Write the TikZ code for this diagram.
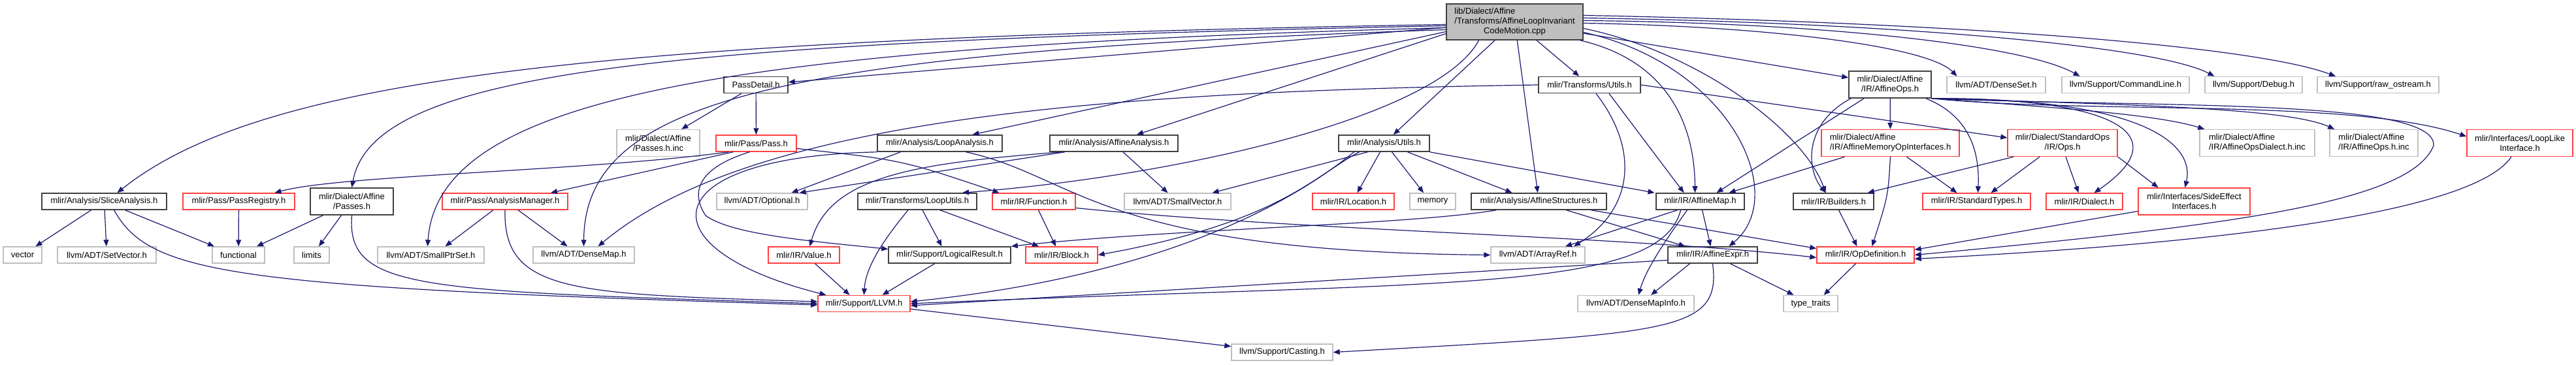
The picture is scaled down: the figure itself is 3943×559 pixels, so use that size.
\documentclass[tikz,border=0pt]{standalone}
\usepackage{fontspec}
\setmainfont{Liberation Sans}
\usepackage{tikz}
\usetikzlibrary{arrows.meta}

\definecolor{edgeblue}{HTML}{191970}
\definecolor{truncred}{HTML}{FF4040}
\definecolor{extgray}{HTML}{BFBFBF}
\definecolor{docgray}{HTML}{404040}

\begin{document}
\begin{tikzpicture}[
  x=1pt, y=-1pt,
  >={Triangle[length=10pt,width=8pt]},
  file/.style={draw=docgray, line width=1.6pt, fill=white, inner sep=2pt,
    minimum height=25pt, font=\fontsize{13}{15}\selectfont},
  trunc/.style={file, draw=truncred, line width=1.4pt},
  ext/.style={file, draw=extgray, line width=1.4pt},
  two/.style={minimum height=41pt, align=center},
  wd/.style={minimum width=#1pt},
  dep/.style={->, draw=edgeblue, line width=1.2pt},
]
\useasboundingbox (0,0) rectangle (3943,559);

% --- the file itself
\node[file, fill=extgray, wd=209, minimum height=55pt] (main) at (2318.5,33.5)
  {\begin{tabular}{@{}l@{}}lib/Dialect/Affine\\/Transforms/AffineLoopInvariant\\\multicolumn{1}{@{}c@{}}{CodeMotion.cpp}\end{tabular}};

% --- row 1
\node[file, wd=98] (passDetail) at (1157,130) {PassDetail.h};
\node[file, wd=156] (trUtils) at (2433,130) {mlir/Transforms/Utils.h};
\node[file, two, wd=126] (affOps) at (2893,129.5) {mlir/Dialect/Affine\\/IR/AffineOps.h};
\node[ext, wd=151] (denseSet) at (3055.5,130) {llvm/ADT/DenseSet.h};
\node[ext, wd=195] (cmdLine) at (3253.5,130) {llvm/Support/CommandLine.h};
\node[ext, wd=149] (debug) at (3449.5,130) {llvm/Support/Debug.h};
\node[ext, wd=186] (rawOs) at (3640,130) {llvm/Support/raw\_ostream.h};

% --- row 2
\node[ext, two, wd=127] (passesInc) at (1007.5,219) {mlir/Dialect/Affine\\/Passes.h.inc};
\node[trunc, wd=123] (pass) at (1157.5,219.5) {mlir/Pass/Pass.h};
\node[file, wd=191] (loopAn) at (1438.5,219.5) {mlir/Analysis/LoopAnalysis.h};
\node[file, wd=196] (affAn) at (1705,219.5) {mlir/Analysis/AffineAnalysis.h};
\node[file, wd=139] (anUtils) at (2118.5,219.5) {mlir/Analysis/Utils.h};
\node[trunc, two, wd=211, align=left] (memIf) at (2893.5,219) {mlir/Dialect/Affine\\/IR/AffineMemoryOpInterfaces.h};
\node[trunc, two, wd=168] (stdOps) at (3157,219) {mlir/Dialect/StandardOps\\/IR/Ops.h};
\node[ext, two, wd=176, align=left] (opsDialInc) at (3455,219) {mlir/Dialect/Affine\\/IR/AffineOpsDialect.h.inc};
\node[ext, two, wd=135, align=left] (opsInc) at (3633.5,219) {mlir/Dialect/Affine\\/IR/AffineOps.h.inc};
\node[trunc, two, wd=162] (loopLike) at (3857,219) {mlir/Interfaces/LoopLike\\Interface.h};

% --- row 3
\node[file, wd=191] (slice) at (159.5,308.5) {mlir/Analysis/SliceAnalysis.h};
\node[trunc, wd=171] (passReg) at (365.5,308.5) {mlir/Pass/PassRegistry.h};
\node[file, two, wd=127] (affPasses) at (538.5,308.5) {mlir/Dialect/Affine\\/Passes.h};
\node[trunc, wd=192] (anMgr) at (773,308.5) {mlir/Pass/AnalysisManager.h};
\node[ext, wd=139] (optional) at (1166.5,308.5) {llvm/ADT/Optional.h};
\node[file, wd=182] (loopUtils) at (1404,308.5) {mlir/Transforms/LoopUtils.h};
\node[trunc, wd=127] (function) at (1582.5,308.5) {mlir/IR/Function.h};
\node[ext, wd=163] (smallVec) at (1802.5,308.5) {llvm/ADT/SmallVector.h};
\node[trunc, wd=125] (location) at (2071.5,308.5) {mlir/IR/Location.h};
\node[ext, wd=70] (memory) at (2193,308.5) {memory};
\node[file, wd=207] (affStruct) at (2355.5,308.5) {mlir/Analysis/AffineStructures.h};
\node[file, wd=135] (affMap) at (2602.5,308.5) {mlir/IR/AffineMap.h};
\node[file, wd=123] (builders) at (2806.5,308.5) {mlir/IR/Builders.h};
\node[trunc, wd=165] (stdTypes) at (3025.5,308.5) {mlir/IR/StandardTypes.h};
\node[trunc, wd=117] (dialect) at (3190.5,308.5) {mlir/IR/Dialect.h};
\node[trunc, two, wd=171] (sideEff) at (3358.5,308.5) {mlir/Interfaces/SideEffect\\Interfaces.h};

% --- row 4
\node[ext, wd=59] (vector) at (34.5,390.5) {vector};
\node[ext, wd=151] (setVec) at (163.5,390.5) {llvm/ADT/SetVector.h};
\node[ext, wd=80] (functional) at (365,390.5) {functional};
\node[ext, wd=54] (limits) at (477,390.5) {limits};
\node[ext, wd=163] (smallPtr) at (659.5,390.5) {llvm/ADT/SmallPtrSet.h};
\node[ext, wd=155] (denseMap) at (893.5,390.5) {llvm/ADT/DenseMap.h};
\node[trunc, wd=109] (value) at (1230.5,390.5) {mlir/IR/Value.h};
\node[file, wd=187] (logRes) at (1453.5,390.5) {mlir/Support/LogicalResult.h};
\node[trunc, wd=110] (block) at (1625,390.5) {mlir/IR/Block.h};
\node[ext, wd=144] (arrayRef) at (2354,390.5) {llvm/ADT/ArrayRef.h};
\node[file, wd=137] (affExpr) at (2621.5,390.5) {mlir/IR/AffineExpr.h};
\node[trunc, wd=149] (opDef) at (2855.5,390.5) {mlir/IR/OpDefinition.h};

% --- rows 5 and 6
\node[trunc, wd=141] (llvm) at (1322.5,465) {mlir/Support/LLVM.h};
\node[ext, wd=178] (denseInfo) at (2504,465) {llvm/ADT/DenseMapInfo.h};
\node[ext, wd=83] (typeTraits) at (2771.5,465) {type\_traits};
\node[ext, wd=155] (casting) at (1962.5,539.5) {llvm/Support/Casting.h};

% --- includes of the file itself
\draw[dep] (main) -- (passDetail);
\draw[dep] ([yshift=-4]main.west) .. controls (900,60) and (400,120) .. ([xshift=20]slice.north);
\draw[dep] ([yshift=-6]main.west) .. controls (1000,64) and (570,110) .. (affPasses.north);
\draw[dep] ([yshift=-9]main.west) .. controls (1100,72) and (670,150) .. ([xshift=-5]smallPtr.north);
\draw[dep] ([yshift=-12]main.west) .. controls (1200,80) and (895,150) .. (denseMap.north);
\draw[dep] ([yshift=-15]main.west) -- ([xshift=50]loopAn.north);
\draw[dep] ([yshift=-18]main.west) -- ([xshift=35]affAn.north);
\draw[dep] ([xshift=-55]main.south) .. controls (2200,180) and (1800,270) .. ([xshift=69]loopUtils.north);
\draw[dep] (main) -- (anUtils);
\draw[dep] (main) -- (affStruct);
\draw[dep] (main) -- (trUtils);
\draw[dep] ([xshift=-5]main.south east) .. controls (2560,95) and (2594,200) .. ([xshift=-8]affMap.north);
\draw[dep] (main) -- (affOps);
\draw[dep] ([yshift=-2]main.east) .. controls (2700,40) and (2950,70) .. ([xshift=-60]denseSet.north);
\draw[dep] ([yshift=2]main.east) .. controls (2800,35) and (3100,70) .. ([xshift=-70]cmdLine.north);
\draw[dep] ([yshift=6]main.east) .. controls (2900,35) and (3300,70) .. ([xshift=-60]debug.north);
\draw[dep] ([yshift=10]main.east) .. controls (3000,35) and (3450,70) .. ([xshift=-65]rawOs.north);
\draw[dep] ([yshift=-10]main.east) .. controls (2600,80) and (2760,200) .. ([xshift=-12]builders.north);
\draw[dep] ([yshift=-16]main.east) .. controls (2650,100) and (2740,300) .. ([xshift=25]affExpr.north);

% --- PassDetail.h and the pass headers
\draw[dep] (passDetail) -- (passesInc);
\draw[dep] (passDetail) -- (pass);
\draw[dep] ([xshift=-42]pass.south) .. controls (900,262) and (520,268) .. ([xshift=55]passReg.north);
\draw[dep] ([xshift=-35]pass.south) -- ([xshift=70]anMgr.north);
\draw[dep] ([yshift=-8]pass.east) .. controls (1380,245) .. ([xshift=-53]function.north);
\draw[dep] ([xshift=-10]pass.south) .. controls (1060,260) and (1060,300) .. (1080,330)
  .. controls (1120,360) and (1250,370) .. ([yshift=9]logRes.west);
\draw[dep] (passReg) -- (functional);
\draw[dep] ([xshift=-18]anMgr.south) -- ([xshift=22]smallPtr.north);
\draw[dep] ([xshift=20]anMgr.south) -- ([xshift=-25]denseMap.north);
\draw[dep] (anMgr.south) .. controls (770,450) and (880,450) .. ([yshift=3]llvm.west);

% --- slice analysis and affine passes
\draw[dep] ([xshift=-20]slice.south) -- ([xshift=20]vector.north);
\draw[dep] (slice) -- (setVec);
\draw[dep] ([xshift=32]slice.south) -- ([xshift=-37]functional.north);
\draw[dep] ([xshift=15]slice.south) .. controls (230,420) and (350,440) .. ([yshift=-2]llvm.west);
\draw[dep] ([xshift=-44]affPasses.south) -- ([xshift=28]functional.north);
\draw[dep] ([xshift=-16]affPasses.south) -- ([xshift=11]limits.north);
\draw[dep] (affPasses.south) .. controls (530,445) and (640,445) .. (llvm.west);

% --- loop and affine analysis
\draw[dep] (loopAn.south west) .. controls (1000,240) and (980,380) .. ([xshift=-58]llvm.north);
\draw[dep] ([xshift=-60]loopAn.south) -- ([xshift=45]optional.north);
\draw[dep] ([xshift=40]loopAn.south) .. controls (1650,270) and (1680,385) .. (arrayRef.west);
\draw[dep] ([xshift=-75]affAn.south) -- ([xshift=57]optional.north);
\draw[dep] ([xshift=-80]affAn.south) .. controls (1400,250) and (1270,270) .. ([xshift=9]value.north);
\draw[dep] ([xshift=14]affAn.south) -- ([xshift=-15]smallVec.north);

% --- analysis utils
\draw[dep] ([xshift=-6]anUtils.south) -- ([xshift=6]location.north);
\draw[dep] ([xshift=12]anUtils.south) -- ([xshift=-14]memory.north);
\draw[dep] ([xshift=36]anUtils.south) -- ([xshift=-41]affStruct.north);
\draw[dep] (anUtils.south east) -- ([xshift=-70]affMap.north);
\draw[dep] ([xshift=-25]anUtils.south) -- ([xshift=53]smallVec.north);
\draw[dep] ([xshift=-38]anUtils.south) .. controls (2010,270) and (1960,340) .. (block.east);
\draw[dep] ([xshift=-46]anUtils.south) .. controls (1990,300) and (1800,420) .. ([yshift=3]llvm.east);

% --- affine structures and transforms utils
\draw[dep] ([xshift=-65]affStruct.south) .. controls (2150,345) and (1800,350) .. (logRes.north east);
\draw[dep] ([xshift=42]affStruct.south) -- ([xshift=-42]affExpr.north);
\draw[dep] ([xshift=80]affStruct.south) -- ([yshift=10]opDef.west);
\draw[dep] (trUtils.east) -- ([yshift=8]stdOps.west);
\draw[dep] (trUtils.west) .. controls (1700,140) and (1150,180) .. ([xshift=22]denseMap.north);
\draw[dep] ([xshift=10]trUtils.south) .. controls (2510,230) and (2500,320) .. ([xshift=55]arrayRef.north);
\draw[dep] ([xshift=30]trUtils.south) -- ([xshift=-25]affMap.north);

% --- affine map and expression
\draw[dep] ([xshift=-35]affMap.south) -- ([xshift=42]arrayRef.north);
\draw[dep] (affMap) -- (affExpr);
\draw[dep] ([xshift=-20]affMap.south) .. controls (2555,360) and (2520,410) .. ([xshift=4]denseInfo.north);
\draw[dep] ([xshift=-30]affMap.south) .. controls (2540,450) and (2200,430) .. (llvm.east);
\draw[dep] ([xshift=-35]affExpr.south) -- ([xshift=23]denseInfo.north);
\draw[dep] ([yshift=-8]affExpr.west) -- ([yshift=-3]llvm.east);
\draw[dep] (affExpr.south) .. controls (2635,510) and (2560,510) .. (casting.east);
\draw[dep] ([xshift=27]affExpr.south) -- ([xshift=-26]typeTraits.north);

% --- affine ops
\draw[dep] (affOps) -- (memIf);
\draw[dep] ([xshift=-40]affOps.south) -- ([xshift=25]affMap.north);
\draw[dep] ([xshift=-60]affOps.south) .. controls (2760,190) and (2765,260) .. ([xshift=-12]builders.north);
\draw[dep] ([xshift=55]affOps.south) .. controls (3020,180) and (3030,240) .. ([xshift=2]stdTypes.north);
\draw[dep] (affOps.south east) .. controls (3300,165) and (3730,150) .. (3725,223)
  .. controls (3690,310) and (3420,345) .. (opDef.east);
\draw[dep] (affOps.south east) .. controls (3200,175) and (3600,150) .. ([yshift=10]loopLike.west);
\draw[dep] (affOps.south east) .. controls (3150,165) and (3300,175) .. ([xshift=8]opsDialInc.north west);
\draw[dep] (affOps.south east) .. controls (3250,160) and (3500,165) .. ([xshift=8]opsInc.north west);
\draw[dep] (affOps.south east) .. controls (3250,150) and (3330,210) .. ([xshift=15]dialect.north);
\draw[dep] (affOps.south east) .. controls (3280,150) and (3360,220) .. ([xshift=-14]sideEff.north);

% --- memory op interfaces, standard ops, interfaces
\draw[dep] ([xshift=-70]memIf.south) -- ([xshift=44]affMap.north);
\draw[dep] (memIf.south) .. controls (2890,300) .. ([xshift=10]opDef.north);
\draw[dep] ([xshift=25]memIf.south) -- ([xshift=-30]stdTypes.north);
\draw[dep] ([xshift=-75]stdOps.south) -- ([xshift=-10]builders.north east);
\draw[dep] ([xshift=-35]stdOps.south) -- ([xshift=22]stdTypes.north);
\draw[dep] ([xshift=5]stdOps.south) -- ([xshift=-9]dialect.north);
\draw[dep] (stdOps.south east) -- ([xshift=-55]sideEff.north);
\draw[dep] ([yshift=-15]sideEff.west) -- ([yshift=8]opDef.east);
\draw[dep] ([xshift=-13]loopLike.south) .. controls (3790,320) and (3450,370) .. ([yshift=-6]opDef.east);
\draw[dep] ([xshift=8]builders.south) -- ([xshift=-13]opDef.north);
\draw[dep] ([xshift=-15]opDef.south) -- ([xshift=20]typeTraits.north);

% --- IR and support headers
\draw[dep] ([xshift=7]function.south) -- ([xshift=-9]block.north);
\draw[dep] ([yshift=-10]function.east) .. controls (2000,354) and (2500,362) .. ([yshift=-4]opDef.west);
\draw[dep] ([xshift=-14]loopUtils.south) .. controls (1350,370) and (1325,410) .. (llvm.north);
\draw[dep] ([xshift=8]loopUtils.south) -- ([xshift=-12]logRes.north);
\draw[dep] ([xshift=35]loopUtils.south) -- ([xshift=-35]block.north);
\draw[dep] ([xshift=-23]logRes.south) -- ([xshift=28]llvm.north);
\draw[dep] ([xshift=17]value.south) -- ([xshift=-22]llvm.north);
\draw[dep] (llvm) -- (casting);

\end{tikzpicture}
\end{document}
